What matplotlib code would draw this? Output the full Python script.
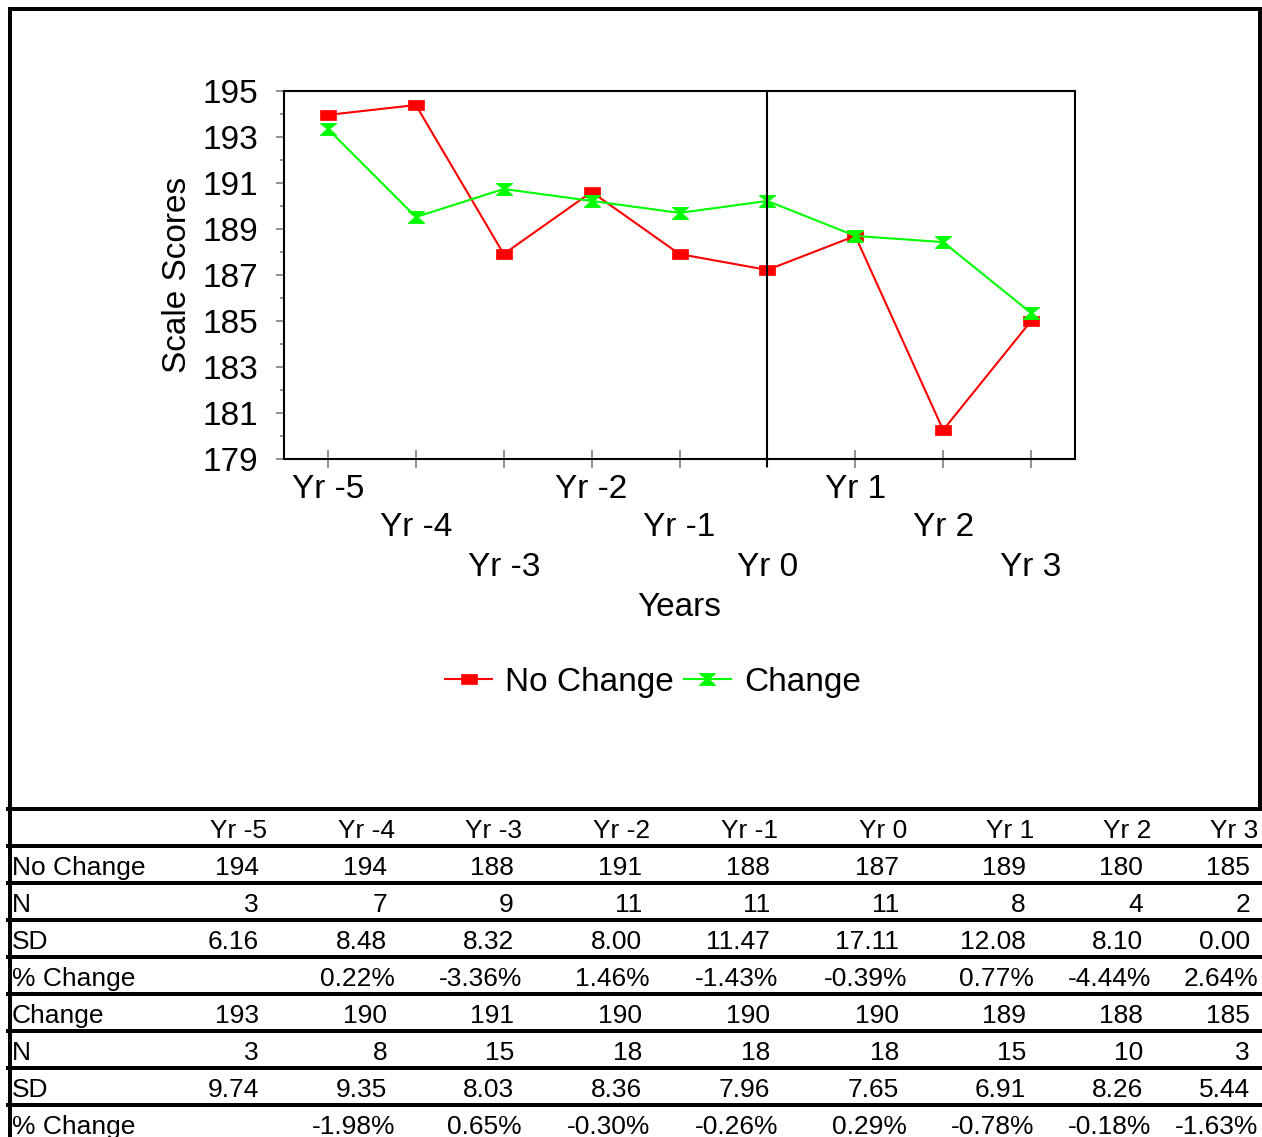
import matplotlib
matplotlib.use("Agg")
import matplotlib.pyplot as plt
from matplotlib.path import Path
from matplotlib.lines import Line2D
from matplotlib.transforms import blended_transform_factory
import numpy as np

plt.rcParams['font.family'] = ['Liberation Sans', 'DejaVu Sans']

# ---- data -------------------------------------------------------------
years = ["Yr -5", "Yr -4", "Yr -3", "Yr -2", "Yr -1", "Yr 0", "Yr 1", "Yr 2", "Yr 3"]

no_change = [193.96, 194.39, 187.91, 190.61, 187.91, 187.22, 188.70, 180.26, 185.00]
change = [193.35, 189.52, 190.74, 190.22, 189.70, 190.22, 188.70, 188.43, 185.35]

nc_n = [3, 7, 9, 11, 11, 11, 8, 4, 2]
nc_sd = [6.16, 8.48, 8.32, 8.00, 11.47, 17.11, 12.08, 8.10, 0.00]
nc_pct = [None, 0.22, -3.36, 1.46, -1.43, -0.39, 0.77, -4.44, 2.64]

ch_n = [3, 8, 15, 18, 18, 18, 15, 10, 3]
ch_sd = [9.74, 9.35, 8.03, 8.36, 7.96, 7.65, 6.91, 8.26, 5.44]
ch_pct = [None, -1.98, 0.65, -0.30, -0.26, 0.29, -0.78, -0.18, -1.63]

# ---- figure -----------------------------------------------------------
W, H = 1262, 1137
fig = plt.figure(figsize=(W / 100, H / 100), dpi=100)
PT = 0.72  # points per pixel at 100 dpi


def fx(px):
    return px / W


def fy(py):
    return 1 - py / H


ax = fig.add_axes([fx(284), fy(459), fx(1075) - fx(284), fy(91) - fy(459)])
x = np.arange(len(years))

square = Path([(-0.8, -0.5), (0.8, -0.5), (0.8, 0.5), (-0.8, 0.5), (-0.8, -0.5)],
              [Path.MOVETO, Path.LINETO, Path.LINETO, Path.LINETO, Path.CLOSEPOLY])
hourglass = Path([(-0.75, 0.55), (0.75, 0.55), (0.1, 0.05), (0.75, -0.55),
                  (-0.75, -0.55), (-0.1, 0.05), (-0.75, 0.55)],
                 [Path.MOVETO, Path.LINETO, Path.LINETO, Path.LINETO,
                  Path.LINETO, Path.LINETO, Path.CLOSEPOLY])

red, green = "#ff0000", "#00ff00"
l1, = ax.plot(x, no_change, color=red, lw=1.5, marker=square, ms=12,
              mfc=red, mec=red, mew=0.5, label="No Change", zorder=3)
l2, = ax.plot(x, change, color=green, lw=1.5, marker=hourglass, ms=11.5,
              mfc=green, mec=green, mew=0.8, label="Change", zorder=4)

ax.set_xlim(-0.5, len(years) - 0.5)
ax.set_ylim(179, 195)
ax.set_yticks(np.arange(179, 196, 2))
ax.set_yticks(np.arange(179, 196, 1), minor=True)
ax.set_xticks(x)
ax.tick_params(axis='y', which='major', length=8 * PT, width=1.2, color='#808080',
               pad=13, labelsize=24, direction='out')
ax.tick_params(axis='y', which='minor', length=4 * PT, width=1.2, color='#808080',
               direction='out')
ax.tick_params(axis='x', which='major', length=18 * PT, width=1.2, color='#808080',
               direction='inout', labelbottom=False)
for s in ax.spines.values():
    s.set_color('black')
    s.set_linewidth(1.5)

trans = blended_transform_factory(ax.transData, ax.transAxes)
# separator at Yr 0
ax.plot([5, 5], [-0.019, 1], color='black', lw=1.5, transform=trans,
        clip_on=False, zorder=5)

# staggered category labels
row_off = [30, 68, 109]
for i, lab in enumerate(years):
    ax.text(i, -row_off[i % 3] / 368, lab, transform=trans, ha='center',
            va='center', fontsize=24)

fig.text(fx(177), fy(275), "Scale Scores", rotation=90, ha='center',
         va='center', fontsize=24)
fig.text(fx(679), fy(607), "Years", ha='center', va='center', fontsize=24)

fig.legend(handles=[l1, l2], loc='center', bbox_to_anchor=(fx(653), fy(682)),
           ncol=2, frameon=False, fontsize=24, handlelength=1.4,
           handletextpad=0.4, columnspacing=0.3, borderpad=0)

# ---- outer border -----------------------------------------------------
fig.add_artist(Line2D([fx(10), fx(10), fx(1260), fx(1260)],
                      [fy(1145), fy(9), fy(9), fy(809)],
                      color='black', lw=4 * PT, transform=fig.transFigure,
                      solid_joinstyle='miter'))

# ---- data table -------------------------------------------------------
line_y = [809 + 37 * i for i in range(9)]
for yy in line_y:
    fig.add_artist(Line2D([fx(8), fx(1262)], [fy(yy), fy(yy)], color='black',
                          lw=4 * PT, transform=fig.transFigure))

hdr_right = [267, 395, 522, 650, 778, 907, 1034, 1151, 1258]


def fmt_pct(v):
    return "" if v is None else f"{v:.2f}%"


rows = [
    ("", years, 0),
    ("No Change", [f"{v:.0f}" for v in no_change], 8),
    ("N", [f"{v:d}" for v in nc_n], 8),
    ("SD", [f"{v:.2f}" for v in nc_sd], 8),
    ("% Change", [fmt_pct(v) for v in nc_pct], 0),
    ("Change", [f"{v:.0f}" for v in change], 8),
    ("N", [f"{v:d}" for v in ch_n], 8),
    ("SD", [f"{v:.2f}" for v in ch_sd], 8),
    ("% Change", [fmt_pct(v) for v in ch_pct], 0),
]

for r, (label, cells, inset) in enumerate(rows):
    cy = line_y[r] + 22
    if label:
        fig.text(fx(12), fy(cy), label, ha='left', va='center', fontsize=19)
    for c, txt in enumerate(cells):
        fig.text(fx(hdr_right[c] - inset), fy(cy), txt, ha='right',
                 va='center', fontsize=19)

fig.savefig("out.png", dpi=100)
